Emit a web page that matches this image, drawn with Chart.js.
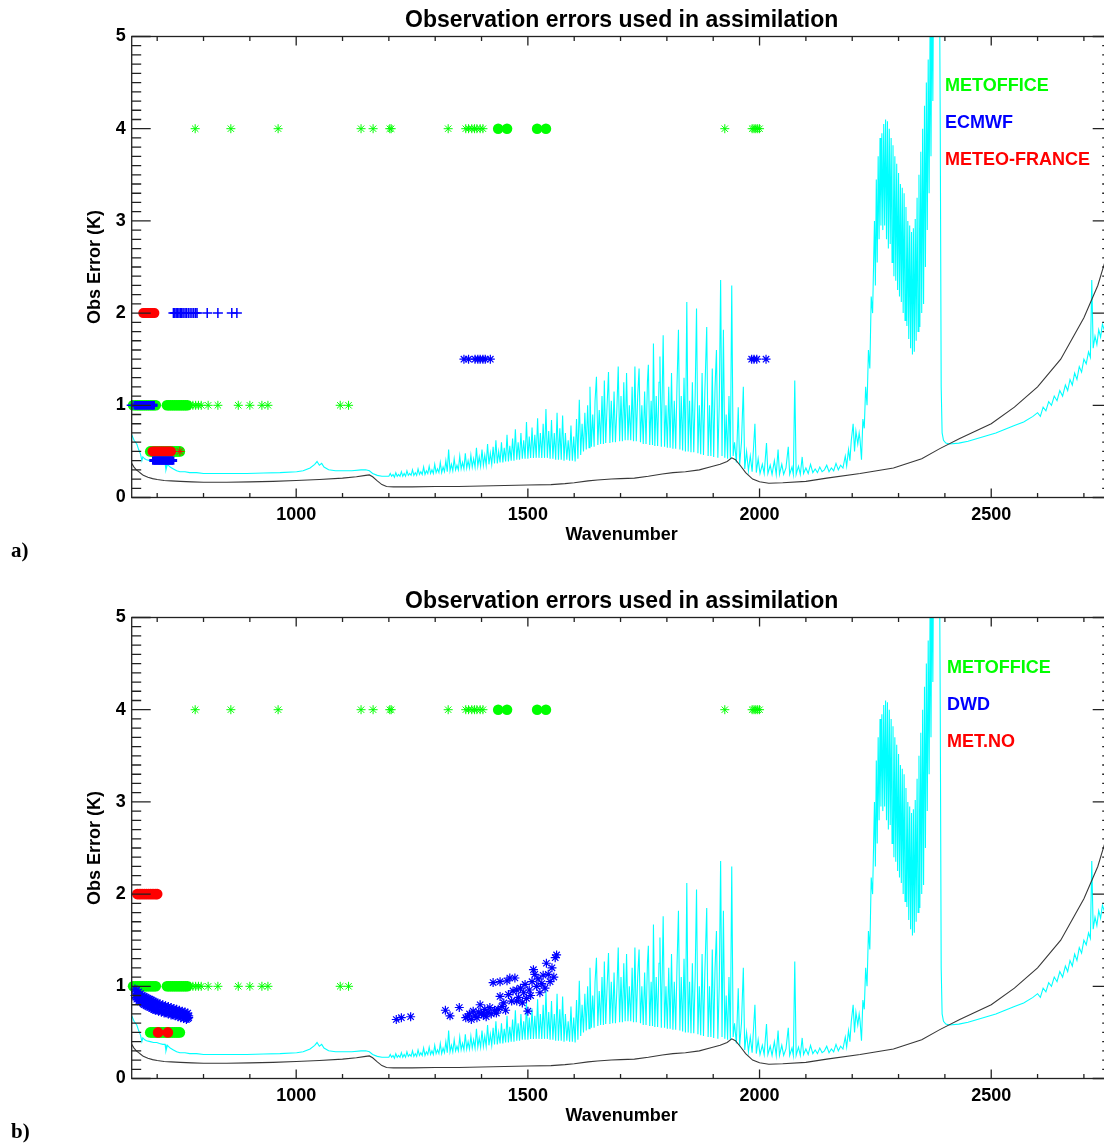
<!DOCTYPE html>
<html><head><meta charset="utf-8">
<script src="https://cdn.jsdelivr.net/npm/chart.js@4/dist/chart.umd.min.js"></script>
<style>
html,body{margin:0;padding:0;background:#fff;overflow:hidden;width:1104px;height:1144px;}
#wrap{position:relative;width:1104px;height:1144px;overflow:hidden;background:#fff;}
canvas{position:absolute;left:0;}
.lab{position:absolute;font-family:"Liberation Sans",Arial,Helvetica,sans-serif;font-weight:bold;font-size:18px;line-height:18px;white-space:nowrap;}
.pan{position:absolute;font-family:"Liberation Serif","Times New Roman",serif;font-weight:bold;font-size:21px;line-height:21px;color:#000;}
</style></head><body>
<div id="wrap">
<canvas id="c1" width="1120" height="575" style="top:0px"></canvas>
<canvas id="c2" width="1120" height="563" style="top:581px"></canvas>
<div class="lab" style="left:945px;top:76px;color:#00ff00">METOFFICE</div>
<div class="lab" style="left:945px;top:113px;color:#0000ff">ECMWF</div>
<div class="lab" style="left:945px;top:150px;color:#ff0000">METEO-FRANCE</div>
<div class="lab" style="left:947px;top:658px;color:#00ff00">METOFFICE</div>
<div class="lab" style="left:947px;top:695px;color:#0000ff">DWD</div>
<div class="lab" style="left:947px;top:732px;color:#ff0000">MET.NO</div>
<div class="pan" style="left:11px;top:540px">a)</div>
<div class="pan" style="left:11px;top:1121px">b)</div>
</div>
<script>
// ---------- axis ticks ----------
const xMajorTicks = [1000, 1500, 2000, 2500];
const xMinorTicks = [700,800,900,1100,1200,1300,1400,1600,1700,1800,1900,2100,2200,2300,2400,2600,2700];
const yMajorTicks = [0, 1, 2, 3, 4, 5];
const yMinorStep = 0.1;
const titleText = "Observation errors used in assimilation";
const xTitle = "Wavenumber";
const yTitle = "Obs Error (K)";

// ---------- cyan spectrum (noise) ----------
const cyanWn = [
645,650,656,660,664,667,669,673,677,685,692,699,705,712,717,719,722,728,735,742,749,760,770,785,800,850,893,930,965,1001,1015,1030,1040,1045,1050,1055,1060,1070,1085,1100,1120,1140,1150,1158,1165,1175,1185,
1200,1203,1206,1209,1212,1215,1218,1221,1224,1227,1230,1233,1236,1239,1242,1245,1248,1251,1254,1257,1260,1263,1266,1269,1272,1275,1278,1281,1284,1287,1290,1293,1296,1299,1302,1305,1308,1311,1314,1317,1320,1323,1326,1329,1332,1335,1338,1341,1344,1347,1350,1353,1356,1359,1362,1365,1368,1371,1374,1377,1380,1383,1386,1389,1392,1395,1398,1401,1404,1407,1410,1413,1416,1419,1422,1425,1428,1431,1434,1437,1440,1443,1446,1449,1452,1455,1458,1461,1464,1467,1470,1473,1476,1479,1482,1485,1488,1491,1494,1497,1500,1503,1506,1509,1512,1515,1518,1521,1524,1527,1530,1533,1536,1539,1542,1545,1548,1551,1554,1557,1560,1563,1566,1569,1572,1575,
1578,1581,1584,1587,1590,1593,1596,1599,1602,1605,1608,1611,1614,1617,1620,1623,1626,1629,1632,1634,1637,1640,1643,1645,1648,1651,1654,1657,1660,1663,1665,1668,1671,1674,1677,1680,1683,1686,1689,1692,1695,1698,1701,1704,1707,1710,1713,1716,1719,1722,1725,1728,1731,1734,1737,1740,1743,1746,1749,1752,1755,1758,1760,1763,1766,1769,1771,1774,1777,1780,1783,1785,1788,1792,1795,1798,1801,1804,1807,1810,1813,1816,1819,1822,1825,1828,1831,1834,1837,1840,1843,1846,1849,1852,1855,1858,1861,1864,1867,1870,1873,1876,1879,1882,1886,1889,1892,1895,1898,1901,1904,1907,1910,1913,1916,1919,1922,1925,1928,1931,1934,1937,1940,1943,1946,1950,1954,1957,1961,1965,1968,1972,1976,1980,1984,1990,1993,1997,2001,2006,2010,2015,2018,2023,2027,2032,2036,2040,2043,2048,2052,2057,2062,2065,2070,2073,2076,2079,2084,2088,2092,2095,2100,2105,2110,2115,2120,2125,2130,2135,2140,2145,2150,2155,2160,2165,2170,2175,2180,2185,2188,2192,2195,2198,2202,2205,2208,2212,2215,2217,2220,2223,2226,2229,2232,2235,2238,2241,2244,
2248,2250,2252,2254,2256,2258,2260,2262,2264,2266,2268,2270,2272,2274,2276,2278,2280,2282,2284,2286,2288,2290,2292,2294,2296,2298,2300,2302,2304,2306,2308,2310,2312,2314,2316,2318,2320,2322,2324,2326,2328,2330,2332,2334,2336,2338,2340,2342,2344,2346,2348,2350,2352,2354,2356,2358,2360,2362,2364,2366,2368,2370,2372,2374,2376,2378,2380,2382,2384,2386,2388,2390,2392,2394,2397,2402,
2410,2430,2450,2470,2490,2510,2530,2550,2570,2590,2600,2606,2612,2618,2624,2630,2636,2642,2648,2654,2660,2665,2670,2675,2680,2685,2690,2695,2700,2705,2710,2714,2717,2720,2724,2728,2732,2736,2740,2745,2750,2755,2760];
const cyanVal = [
0.68,0.62,0.58,0.52,0.47,0.40,0.44,0.42,0.41,0.40,0.39,0.39,0.38,0.37,0.37,0.30,0.36,0.33,0.31,0.29,0.28,0.28,0.27,0.27,0.26,0.26,0.26,0.265,0.27,0.28,0.29,0.32,0.36,0.39,0.35,0.37,0.33,0.30,0.29,0.29,0.29,0.30,0.30,0.29,0.26,0.24,0.23,
0.23,0.26,0.23,0.25,0.22,0.27,0.23,0.25,0.23,0.28,0.23,0.26,0.23,0.29,0.24,0.26,0.24,0.30,0.24,0.27,0.24,0.31,0.25,0.28,0.25,0.33,0.25,0.29,0.26,0.34,0.26,0.30,0.26,0.36,0.27,0.31,0.27,0.38,0.27,0.33,0.28,0.40,0.28,0.52,0.29,0.36,0.29,0.42,0.30,0.35,0.30,0.45,0.31,0.38,0.31,0.48,0.32,0.40,0.32,0.46,0.33,0.42,0.33,0.54,0.34,0.44,0.34,0.52,0.35,0.46,0.35,0.58,0.36,0.48,0.36,0.55,0.37,0.62,0.37,0.50,0.38,0.60,0.38,0.54,0.39,0.68,0.39,0.56,0.40,0.64,0.40,0.74,0.41,0.60,0.41,0.70,0.42,0.62,0.42,0.82,0.42,0.66,0.43,0.76,0.43,0.68,0.43,0.86,0.43,0.70,0.43,0.80,0.43,0.96,0.43,0.72,0.42,0.84,0.42,0.70,0.41,0.92,0.41,0.75,0.41,0.89,
0.40,0.70,0.41,0.62,0.40,0.78,0.40,0.66,0.39,0.85,0.42,1.06,0.46,0.80,0.50,0.92,0.52,1.00,0.54,1.20,0.55,0.90,0.55,1.05,1.31,0.57,0.95,0.58,1.10,0.58,1.27,0.59,1.00,1.36,0.59,1.05,0.60,1.15,0.60,0.95,1.42,0.61,1.10,0.61,1.25,0.62,1.35,0.62,1.00,0.62,1.20,0.61,1.42,0.61,1.10,1.40,0.60,1.00,0.58,1.15,0.58,1.25,1.44,0.57,1.05,0.57,1.67,0.56,1.10,0.56,1.25,1.53,0.55,1.76,0.55,1.00,0.54,1.20,0.54,1.35,0.53,1.05,0.53,1.25,1.82,0.52,1.10,0.51,1.30,0.50,2.12,0.50,1.05,0.49,1.25,0.49,1.10,2.05,0.48,1.00,0.47,1.35,0.46,1.15,1.85,0.45,1.00,0.45,1.40,0.44,1.20,1.60,0.43,1.00,2.36,0.45,1.82,0.43,0.90,0.42,1.10,0.42,2.30,0.45,0.60,0.38,0.98,0.35,0.60,1.20,0.31,0.50,0.29,0.45,0.28,0.80,0.27,0.42,0.26,0.36,0.26,0.59,0.26,0.35,0.25,0.40,0.25,0.52,0.25,0.36,0.25,0.32,0.55,0.25,0.33,0.25,1.27,0.25,0.34,0.25,0.44,0.26,0.32,0.26,0.36,0.27,0.31,0.27,0.33,0.28,0.30,0.35,0.28,0.32,0.29,0.37,0.30,0.35,0.32,0.45,0.34,0.52,0.40,0.62,0.80,0.50,0.72,0.58,0.70,0.62,0.41,0.85,0.75,1.20,1.00,1.60,1.40,2.18,2.00,
3.00,2.30,3.45,2.55,3.70,2.80,3.90,2.95,3.95,2.90,4.05,2.95,4.10,2.80,4.08,2.70,4.00,2.75,3.90,2.55,3.82,2.40,3.70,2.35,3.62,2.25,3.52,2.18,3.40,2.12,3.36,2.00,3.30,1.92,3.15,1.86,3.00,1.72,2.95,1.62,2.88,1.55,2.92,1.58,3.02,1.70,3.25,1.80,3.50,1.85,3.75,2.00,4.00,2.10,4.25,2.50,4.50,2.90,4.75,3.30,5.10,3.70,5.50,4.30,6.00,5.00,6.00,5.60,6.00,6.00,6.00,4.00,1.20,0.70,0.62,0.59,
0.58,0.59,0.61,0.64,0.67,0.70,0.74,0.78,0.82,0.88,0.92,0.88,0.98,0.94,1.04,1.00,1.10,1.05,1.16,1.10,1.22,1.16,1.28,1.22,1.35,1.28,1.42,1.36,1.50,1.45,1.58,1.52,2.36,1.62,1.75,1.66,1.82,1.74,1.88,1.80,1.92,1.85,1.95];

// ---------- black spectrum ----------
const blackWn = [645,650,655,660,665,670,680,690,700,715,730,750,775,800,850,900,950,1000,1050,1100,1130,1150,1158,1165,1175,1185,1195,1210,1250,1300,1350,1400,1450,1500,1550,1580,1600,1630,1650,1680,1700,1730,1760,1790,1813,1840,1870,1893,1915,1930,1940,1948,1958,1970,1985,2000,2020,2050,2100,2145,2217,2289,2350,2389,2432,2500,2550,2600,2650,2700,2730,2745,2760];
const blackVal = [0.37,0.33,0.30,0.28,0.26,0.24,0.22,0.205,0.195,0.185,0.18,0.175,0.17,0.165,0.165,0.17,0.175,0.185,0.195,0.21,0.225,0.24,0.245,0.225,0.18,0.14,0.12,0.115,0.115,0.12,0.12,0.125,0.13,0.135,0.14,0.15,0.16,0.18,0.19,0.20,0.205,0.21,0.23,0.255,0.27,0.28,0.30,0.33,0.36,0.39,0.43,0.41,0.35,0.27,0.20,0.17,0.155,0.16,0.175,0.21,0.26,0.32,0.42,0.53,0.64,0.80,0.98,1.20,1.50,1.95,2.30,2.55,2.78];

// ---------- METOFFICE (both panels) ----------
const moStarWn  = [782,859,961,1140,1166,1202,1205,1328,1366,1372,1379,1385,1390,1397,1403,1925,1984,1988,1992,1996,2000,771,777,783,789,795,810,831,875,900,926,939,1095,1113];
const moStarErr = [4,4,4,4,4,4,4,4,4,4,4,4,4,4,4,4,4,4,4,4,4,1,1,1,1,1,1,1,1,1,1,1,1,1];
const moDotWn   = [1436,1455,1520,1539,648,653,657,661,665,669,673,677,681,685,689,693,697,721,725,729,733,737,741,745,749,753,757,761,765,685,689,693,697,701,705,709,713,717,721,725,729,733,737,741,745,749];
const moDotErr  = [4,4,4,4,1,1,1,1,1,1,1,1,1,1,1,1,1,1,1,1,1,1,1,1,1,1,1,1,1,0.5,0.5,0.5,0.5,0.5,0.5,0.5,0.5,0.5,0.5,0.5,0.5,0.5,0.5,0.5,0.5,0.5];

// ---------- ECMWF (panel a) ----------
const ecPlusWn   = [735,738,741,744,747,750,753,756,760,763,767,771,775,779,783,786,808,831,861,872,645];
const ecPlusErr  = [2,2,2,2,2,2,2,2,2,2,2,2,2,2,2,2,2,2,2,2,1];
const ecBlockWn  = [652,654,657,660,663,666,669,672,675,678,681,684,687,690,692,692,695,698,701,704,707,710,713,716,719,722,725,728,731,734];
const ecBlockErr = [1,1,1,1,1,1,1,1,1,1,1,1,1,1,1,0.4,0.4,0.4,0.4,0.4,0.4,0.4,0.4,0.4,0.4,0.4,0.4,0.4,0.4,0.4];
const ecStarWn   = [1362,1372,1386,1392,1397,1403,1408,1419,1983,1988,1994,2014];
const ecStarErr  = [1.5,1.5,1.5,1.5,1.5,1.5,1.5,1.5,1.5,1.5,1.5,1.5];

// ---------- METEO-FRANCE (panel a) ----------
const mfDotWn   = [670,674,678,682,686,690,694,690,694,698,702,706,710,714,718,722,726,730];
const mfDotErr  = [2,2,2,2,2,2,2,0.5,0.5,0.5,0.5,0.5,0.5,0.5,0.5,0.5,0.5,0.5];
const mfStarWn  = [749];
const mfStarErr = [0.5];

// ---------- DWD (panel b) ----------
const dwdWn  = [652,652,654,654,656,656,658,658,660,660,662,662,664,664,666,666,668,668,670,670,672,672,674,674,676,676,678,678,680,680,682,682,684,684,686,686,688,688,690,690,692,692,694,694,696,696,698,698,700,700,703,703,706,706,709,709,712,712,715,715,718,718,721,721,724,724,727,727,730,730,733,733,736,736,739,739,742,742,745,745,748,748,751,751,754,754,757,757,760,760,763,763,766,766,768,768,
1216,1227,1247,1322,1332,1352,1366,1370,1374,1378,1382,1386,1390,1394,1397,1400,1404,1407,1410,1414,1418,1421,1425,1428,1432,1436,1440,1440,1444,1448,1452,1455,1458,1461,1465,1468,1472,1476,1476,1480,1484,1488,1491,1494,1497,1500,1503,1506,1509,1512,1515,1519,1522,1526,1530,1533,1537,1540,1544,1548,1552,1556,1559,1562];
const dwdErr = [0.97,0.90,0.94,0.88,0.96,0.86,0.92,0.87,0.94,0.85,0.91,0.84,0.92,0.83,0.89,0.84,0.90,0.82,0.88,0.81,0.89,0.80,0.87,0.81,0.88,0.79,0.86,0.80,0.87,0.78,0.85,0.79,0.86,0.77,0.84,0.78,0.85,0.76,0.83,0.77,0.84,0.75,0.82,0.76,0.83,0.74,0.81,0.75,0.82,0.74,0.80,0.73,0.81,0.74,0.79,0.72,0.80,0.73,0.78,0.71,0.79,0.72,0.77,0.71,0.78,0.70,0.76,0.71,0.77,0.69,0.75,0.70,0.76,0.69,0.74,0.68,0.75,0.69,0.73,0.67,0.74,0.68,0.72,0.66,0.73,0.67,0.71,0.65,0.72,0.66,0.70,0.64,0.71,0.65,0.68,0.66,
0.64,0.66,0.67,0.74,0.68,0.77,0.66,0.67,0.70,0.64,0.73,0.68,0.66,0.72,0.80,0.70,0.69,0.75,0.67,0.72,0.77,0.70,1.04,0.74,0.71,0.75,0.89,1.05,0.78,0.82,0.74,1.06,0.91,1.09,0.84,0.95,1.09,0.96,0.84,0.88,0.98,0.82,0.93,1.02,0.87,0.73,0.96,0.90,1.05,1.18,1.13,1.00,1.08,0.93,1.03,1.12,0.98,1.25,1.13,1.05,1.20,1.10,1.31,1.34];

// ---------- MET.NO (panel b) ----------
const mnDotWn  = [657,661,665,669,673,677,681,685,689,693,697,700,702,723];
const mnDotErr = [2,2,2,2,2,2,2,2,2,2,2,2,0.5,0.5];

// ---------- colours ----------
const GREEN = '#00ff00', BLUE = '#0000ff', RED = '#ff0000', CYAN = '#00ffff', DARK = '#383838';
const FONT = '"Liberation Sans", Arial, Helvetica, sans-serif';

function pts(wn, val){ return wn.map((w,i)=>({x:w, y:val[i]})); }

function lineDs(wn, val, color, order){
  return {type:'line', data:pts(wn,val), borderColor:color, borderWidth:1.1, pointRadius:0, tension:0, fill:false, order:order};
}
function markDs(wn, val, color, style, r, bw, order){
  return {type:'scatter', data:pts(wn,val), pointStyle:style, pointRadius:r, pointHoverRadius:r,
    borderColor:color, backgroundColor:color, pointBorderWidth:bw, borderWidth:bw, showLine:false, order:order, clip:false};
}

const framePlugin = {
  id:'frame',
  afterDatasetsDraw(chart){
    const {ctx, chartArea:a, scales:{x,y}} = chart;
    ctx.save();
    ctx.strokeStyle = '#222'; ctx.lineWidth = 1.3;
    ctx.strokeRect(a.left, a.top, a.right-a.left, a.bottom-a.top);
    ctx.beginPath();
    const xt = (v,len)=>{const p=x.getPixelForValue(v); ctx.moveTo(p,a.bottom); ctx.lineTo(p,a.bottom-len); ctx.moveTo(p,a.top); ctx.lineTo(p,a.top+len);};
    const yt = (v,len)=>{const p=y.getPixelForValue(v); ctx.moveTo(a.left,p); ctx.lineTo(a.left+len,p); ctx.moveTo(a.right,p); ctx.lineTo(a.right-len,p);};
    xMajorTicks.forEach(v=>xt(v,9));
    xMinorTicks.forEach(v=>xt(v,4.5));
    yMajorTicks.forEach(v=>yt(v,19));
    for(let k=1;k<50;k++){ if(k%10) yt(k*yMinorStep,9.5); }
    ctx.stroke();
    ctx.restore();
  }
};

function makeChart(id, H, datasets, xTitlePadBottom){
  return new Chart(document.getElementById(id), {
    data:{datasets:datasets},
    options:{
      responsive:false, animation:false, devicePixelRatio:1, events:[],
      layout:{padding:{left:0, right:8.3, top:0, bottom:0}},
      plugins:{
        legend:{display:false}, tooltip:{enabled:false},
        title:{display:true, text:titleText, fullSize:false, color:'#000',
          font:{family:FONT, size:23, weight:'bold'}, padding:{top:7, bottom:1.9}}
      },
      scales:{
        x:{type:'linear', position:'bottom', min:645, max:2760,
          afterFit:s=>{s.height = H - 497.5;},
          afterBuildTicks:s=>{s.ticks = xMajorTicks.map(v=>({value:v}));},
          grid:{display:false, drawTicks:false}, border:{display:false},
          ticks:{color:'#000', padding:7, font:{family:FONT, size:18, weight:'bold'}, maxRotation:0, autoSkip:false,
            callback:v=>String(v)},
          title:{display:true, text:xTitle, color:'#000', font:{family:FONT, size:18, weight:'bold'}, padding:{top:0,bottom:xTitlePadBottom}}
        },
        y:{type:'linear', position:'left', min:0, max:5,
          afterFit:s=>{s.width = 131.7;},
          afterBuildTicks:s=>{s.ticks = yMajorTicks.map(v=>({value:v}));},
          grid:{display:false, drawTicks:false}, border:{display:false},
          ticks:{color:'#000', padding:6, font:{family:FONT, size:18, weight:'bold'}, autoSkip:false,
            callback:v=>String(v)},
          title:{display:true, text:yTitle, color:'#000', font:{family:FONT, size:18, weight:'bold'}, padding:{top:84, bottom:0}}
        }
      }
    },
    plugins:[framePlugin]
  });
}

const commonLines = () => [
  lineDs(cyanWn, cyanVal, CYAN, 20),
  lineDs(blackWn, blackVal, DARK, 19)
];

makeChart('c1', 575, [
  markDs(ecBlockWn, ecBlockErr, BLUE, 'cross', 4.2, 3, 1),
  markDs(ecPlusWn, ecPlusErr, BLUE, 'cross', 5, 1.5, 1),
  markDs(ecStarWn, ecStarErr, BLUE, 'star', 4.5, 1.2, 1),
  markDs(mfDotWn, mfDotErr, RED, 'circle', 5, 0, 2),
  markDs(mfStarWn, mfStarErr, RED, 'star', 4.5, 1, 2),
  markDs(moDotWn, moDotErr, GREEN, 'circle', 5.3, 0, 5),
  markDs(moStarWn, moStarErr, GREEN, 'star', 4.5, 1, 5),
  ...commonLines()
], 29.2);

makeChart('c2', 563, [
  markDs(mnDotWn, mnDotErr, RED, 'circle', 5.3, 0, 1),
  markDs(dwdWn, dwdErr, BLUE, 'star', 4.5, 1.2, 2),
  markDs(moDotWn, moDotErr, GREEN, 'circle', 5.3, 0, 5),
  markDs(moStarWn, moStarErr, GREEN, 'star', 4.5, 1, 5),
  ...commonLines()
], 17.2);
</script>
</body></html>
